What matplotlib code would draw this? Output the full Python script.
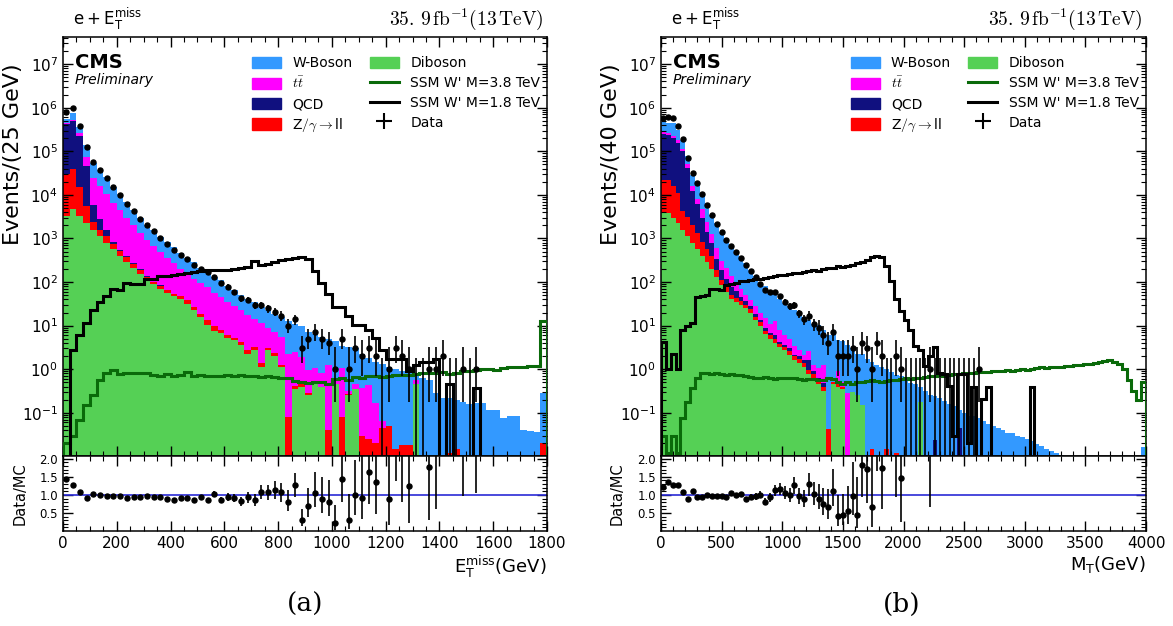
import numpy as np
import matplotlib
matplotlib.use("Agg")
import matplotlib.pyplot as plt
from matplotlib.lines import Line2D
from matplotlib.patches import Patch
from matplotlib.ticker import AutoMinorLocator, NullFormatter, FixedLocator, LogFormatterSciNotation

# ---- panel (a): MET, 25 GeV bins ----
met_edges = np.arange(0, 1801, 25)
met_diboson = [3200, 4800, 3200, 2240, 1585, 1120, 794, 575, 398, 288,
               209, 151, 105, 89, 71, 56, 48, 40, 31.6, 22.4,
               15.8, 10.5, 7.6, 6.9, 5.2, 4.7, 3.55, 2.24, 2.8, 1.12,
               2.8, 2.0, 1.12, 0, 0.35, 0.4, 0.25, 0.45, 0.4, 0,
               0.45, 0, 0.25, 0.35, 0, 0, 0, 0, 0, 0,
               0, 0, 0.45, 0, 0, 0, 0, 0, 0, 0,
               0, 0, 0, 0, 0, 0, 0, 0, 0, 0,
               0, 0]
met_zll = [27700, 34100, 11900, 3380, 814, 463, 328, 184, 127, 84,
           54, 40, 27, 11, 12, 10, 4.5, 7, 6.4, 3.9,
           2.8, 2.7, 2.4, 1.0, 0.8, 0.5, 0.65, 0.56, 0.36, 0.29,
           0.2, 0.3, 0.14, 0.08, 0.07, 0.05, 0.03, 0.02, 0, 0.04,
           0, 0.08, 0.02, 0, 0.03, 0.025, 0.02, 0.045, 0.05, 0.015,
           0.018, 0.018, 0.01, 0, 0, 0, 0, 0.012, 0.015, 0,
           0, 0, 0, 0, 0, 0, 0, 0, 0, 0,
           0, 0.02]
met_qcd = [386000, 450900, 214000, 40100, 3355, 1170, 463, 90, 25, 15,
           10, 6, 3, 1, 0.5, 0.3, 0.2] + [0] * 55
met_ttbar = [40200, 47200, 33900, 26700, 18240, 13100, 8890, 5760, 3915, 2633,
             1722, 1152, 798, 575, 396, 297, 222, 153, 120, 94,
             74, 63, 47.5, 36.8, 29.5, 23, 18.2, 15, 11, 9.8,
             5.9, 4.8, 4.3, 2.16, 2.1, 1.5, 0.7, 0.6, 0.4, 1.2,
             0.1, 1.0, 0.05, 0.1, 0.35, 0.4, 0.15, 0.02, 0, 0,
             0, 0, 0.1, 0, 0, 0, 0, 0, 0, 0,
             0, 0, 0, 0, 0, 0, 0, 0, 0, 0,
             0, 0]
met_wboson = [105200, 239200, 91800, 65600, 30960, 20460, 14650, 8880, 5760, 3900,
              2472, 1671, 1156, 873, 593, 488, 371, 257, 205, 162,
              121, 124, 71.5, 65, 47.7, 36.4, 28.9, 23.9, 20.6, 15.7,
              14.5, 11.5, 10.2, 10.4, 8.5, 7.8, 6.1, 5.5, 4.8, 3.8,
              4.0, 2.4, 2.9, 2.55, 1.8, 1.4, 1.3, 1.25, 1.07, 0.98,
              0.87, 0.78, 0.15, 0.63, 0.56, 0.28, 0.22, 0.21, 0.185, 0.18,
              0.16, 0.166, 0.166, 0.115, 0.115, 0.076, 0.085, 0.085, 0.04, 0.038,
              0.037, 0.26]
met_sig38 = [0.02, 0.03, 0.068, 0.15, 0.26, 0.56, 0.81, 0.95, 0.76, 0.8,
             0.82, 0.8, 0.83, 0.72, 0.7, 0.78, 0.7, 0.72, 0.84, 0.7,
             0.72, 0.7, 0.68, 0.7, 0.72, 0.71, 0.72, 0.7, 0.69, 0.66,
             0.68, 0.65, 0.63, 0.62, 0.55, 0.5, 0.48, 0.52, 0.5, 0.46,
             0.6, 0.62, 0.58, 0.65, 0.63, 0.7, 0.68, 0.66, 0.7, 0.72,
             0.74, 0.72, 0.78, 0.8, 0.82, 0.8, 0.85, 0.78, 0.8, 0.9,
             0.92, 0.95, 1.0, 1.02, 0.98, 1.05, 1.12, 1.1, 1.15, 1.2,
             1.18, 12.5]
met_sig18 = [0, 2.7, 6.0, 11.2, 23.4, 34.7, 47.9, 67.6, 66, 93,
             89, 89, 115, 120, 138, 141, 148, 151, 158, 166,
             178, 186, 190, 186, 186, 200, 209, 224, 302, 251,
             263, 282, 316, 331, 363, 380, 331, 178, 95, 54,
             27, 27, 16.6, 10.5, 10.5, 8.1, 5.2, 2.8, 1.74, 1.74,
             1.74, 0.89, 1.26, 1.5, 1.5, 1.74, 0, 0.45, 0, 0,
             0, 0.37, 0, 0, 0, 0, 0, 0, 0, 0,
             0, 0]
met_data = [813000, 1000000, 380000, 126000, 56200, 36300, 24500, 15100, 10000, 6300,
            4170, 2820, 2040, 1445, 1000, 759, 550, 417, 331, 245,
            200, 170, 132, 95, 79, 59, 42, 39, 30, 29,
            25, 21, 17, 10, 14, 3, 5, 7, 5, 4,
            1, 5, 1, 3, 2, 3, 2, 0, 1, 3,
            2, 1, 0, 0, 1, 1, 2, 0, 0, 1,
            0, 1, 0, 0, 0, 0, 0, 0, 0, 0,
            0, 0]

# ---- panel (b): MT, 40 GeV bins ----
mt_edges = np.arange(0, 4001, 40)
mt_diboson = [3890, 3890, 2950, 2240, 1585, 1122, 794, 562, 398, 282,
              200, 130, 85, 58, 41.7, 35.5, 30.2, 25.1, 20, 13.2,
              10, 6.3, 5.0, 4.0, 3.16, 2.7, 2.14, 1.66, 1.41, 1.12,
              0.79, 0.63, 0.45, 0.32, 0, 0.45, 0.4, 0.35, 0, 0.3,
              0.25, 0.15, 0, 0, 0, 0, 0, 0, 0, 0,
              0, 0, 0, 0.18] + [0] * 46
mt_zll = [17990, 17990, 12900, 8980, 2584, 2040, 1295, 756, 434, 280,
          198, 59, 26, 19.6, 8, 7, 6, 5, 4, 2.8,
          2.2, 1.4, 1.1, 0.9, 0.7, 0.55, 0.45, 0.35, 0.3, 0.25,
          0.18, 0.14, 0.1, 0.08, 0.043, 0.05, 0.05, 0.05, 0, 0,
          0.01, 0, 0, 0.015, 0, 0, 0.015, 0, 0.012] + [0] * 51
mt_qcd = [223600, 212500, 188400, 147300, 95800, 38500, 10500, 4990, 2188, 851,
          396, 155, 74, 42.5, 29, 18.3, 8.4, 6.4, 4.2, 2.8,
          1.5, 0.9, 0.7, 1.3, 0.4, 0.37, 0.49, 0.15, 0.31, 0.27,
          0.66, 0.14, 0.08, 0.08, 0, 0, 0.02, 0, 0, 0,
          0, 0, 0, 0, 0, 0, 0, 0.01, 0, 0,
          0, 0, 0, 0, 0, 0, 0.024, 0, 0, 0,
          0, 0.045] + [0] * 38
mt_ttbar = [29900, 30000, 24900, 23500, 14800, 8430, 3260, 1633, 1766, 986,
            465, 248, 116, 86, 58.5, 29.2, 24, 14.5, 9.8, 9.7,
            5.8, 6.5, 4.1, 6.9, 3.7, 2.53, 1.83, 1.16, 0.73, 0.5,
            0.92, 0.32, 0.41, 0.79, 0, 0, 0.42, 0.1, 0.28] + [0] * 61
mt_wboson = [203200, 192700, 217600, 120000, 63000, 27500, 12330, 11560, 5930, 3490,
             2208, 1688, 1129, 776, 487, 390, 272.6, 216.5, 152.5, 106.4,
             70.9, 66, 52, 39.2, 32.7, 26.8, 23.2, 19.5, 16.9, 13.6,
             10.6, 9.4, 9.1, 6.7, 6.1, 5.8, 3.8, 4.0, 3.4, 2.8,
             1.94, 2.04, 1.74, 1.46, 1.26, 1.15, 0.985, 0.83, 0.73, 0.68,
             0.56, 0.47, 0.45, 0.22, 0.32, 0.26, 0.216, 0.22, 0.19, 0.155,
             0.14, 0.072, 0.1, 0.083, 0.083, 0.076, 0.066, 0.056, 0.05, 0.045,
             0.04, 0.035, 0.034, 0.03, 0.028, 0.025, 0.022, 0.019, 0.017, 0.015,
             0.013, 0.012, 0.0105, 0.0091, 0.008, 0, 0, 0, 0, 0,
             0, 0, 0, 0, 0, 0, 0, 0, 0, 0.016]
mt_sig38 = [0.03, 0.012, 0.03, 0.012, 0.075, 0.18, 0.37, 0.62, 0.82, 0.8,
            0.78, 0.8, 0.76, 0.74, 0.76, 0.72, 0.74, 0.68, 0.66, 0.64,
            0.62, 0.65, 0.63, 0.6, 0.62, 0.64, 0.62, 0.63, 0.6, 0.58,
            0.6, 0.6, 0.56, 0.58, 0.62, 0.6, 0.5, 0.45, 0.5, 0.46,
            0.52, 0.5, 0.55, 0.58, 0.55, 0.52, 0.55, 0.58, 0.56, 0.6,
            0.62, 0.6, 0.62, 0.64, 0.66, 0.68, 0.7, 0.72, 0.7, 0.74,
            0.76, 0.78, 0.8, 0.82, 0.8, 0.84, 0.86, 0.84, 0.9, 0.92,
            0.9, 0.95, 0.93, 0.96, 1.0, 0.98, 1.02, 1.05, 1.1, 1.08,
            1.1, 1.12, 1.15, 1.18, 1.2, 1.22, 1.25, 1.3, 1.35, 1.4,
            1.5, 1.55, 1.6, 1.5, 1.3, 1.0, 0.56, 0.32, 0.2, 0.52]
mt_sig18 = [4.2, 1.0, 2.2, 1.0, 7.9, 10, 11.5, 46, 48, 50,
            68, 69, 66, 87, 91, 95, 105, 107, 112, 117,
            115, 126, 132, 138, 145, 145, 151, 158, 158, 174,
            178, 186, 182, 200, 209, 214, 229, 224, 234, 251,
            269, 282, 316, 380, 389, 372, 229, 105, 40, 21.4,
            13.5, 8.1, 3.4, 2.8, 1.17, 2.0, 3.2, 0.81, 0.76, 0.41,
            0.029, 0.76, 0.76, 0.02, 0.39, 0, 0.21, 0.39, 0, 0,
            0, 0, 0, 0, 0, 0, 0.39] + [0] * 23
mt_data = [589000, 617000, 575000, 389000, 190500, 69200, 31600, 18600, 10230, 5890,
           3390, 2190, 1380, 933, 661, 479, 347, 240, 182, 129,
           91, 66, 59, 59, 47, 35, 28, 29, 19, 14,
           17, 11, 9, 6, 4, 7, 2, 2, 2, 3,
           1, 4, 3, 1, 4, 2, 0, 0, 2, 1,
           0, 0, 0, 0, 0, 1, 0, 0, 0, 0,
           0, 0, 0, 0, 0, 1] + [0] * 34

C_W = "#3399ff"
C_TT = "#ff00ff"
C_QCD = "#10107f"
C_Z = "#ff0000"
C_DIB = "#55d055"
C_S38 = "#0a6a0a"

YMIN, YMAX = 0.0102, 4.2e7

# 68% Poisson (Garwood) intervals for small counts
GW_LO = [0, 0.173, 0.708, 1.367, 2.086, 2.840, 3.620, 4.419, 5.232, 6.057, 6.891]
GW_HI = [1.841, 3.300, 4.638, 5.918, 7.163, 8.382, 9.584, 10.77, 11.95, 13.11, 14.27]


def poisson_band(n):
    lo = n - np.sqrt(n)
    hi = n + np.sqrt(n)
    for i, v in enumerate(n):
        if v <= 10:
            lo[i] = GW_LO[int(v)]
            hi[i] = GW_HI[int(v)]
    return lo, hi


def draw_panel(ax, rax, edges, stack, sig38, sig18, data, xlabel, ylabel, major):
    width = np.diff(edges)
    centers = edges[:-1] + width / 2
    ax.set_yscale("log")
    bottom = np.full(len(width), 1e-6)
    for vals, color in stack:
        vals = np.asarray(vals, float)
        ax.bar(edges[:-1], vals, width=width, bottom=bottom, align="edge",
               color=color, linewidth=0, zorder=1)
        bottom = bottom + vals
    mc = bottom

    s38 = np.asarray(sig38, float)
    s18 = np.asarray(sig18, float)
    ax.stairs(np.where(s38 > 0, s38, 1e-6), edges, color=C_S38, lw=2.2, zorder=3)
    ax.stairs(np.where(s18 > 0, s18, 1e-6), edges, color="black", lw=2.2, zorder=3)

    n = np.asarray(data, float)
    lo, hi = poisson_band(n)
    pos = n > 0
    ax.errorbar(centers[pos], n[pos], yerr=[n[pos] - lo[pos], hi[pos] - n[pos]],
                fmt="o", color="black", ms=3.6, elinewidth=1.2, capsize=0, zorder=4)
    last = np.nonzero(pos)[0].max()
    empty = (~pos) & (np.arange(len(n)) < last)
    ax.vlines(centers[empty], 1e-6, GW_HI[0], color="black", lw=1.2, zorder=4)

    ax.set_ylim(YMIN, YMAX)
    ax.set_xlim(edges[0], edges[-1])
    # only ticks inside the visible range
    majors = 10.0 ** np.arange(-1, 8)
    minors = [m * 10.0 ** e for e in range(-2, 8) for m in range(2, 10)]
    minors = [v for v in minors if YMIN <= v <= YMAX]
    ax.yaxis.set_major_locator(FixedLocator(majors))
    ax.yaxis.set_major_formatter(LogFormatterSciNotation())
    ax.yaxis.set_minor_locator(FixedLocator(minors))
    ax.yaxis.set_minor_formatter(NullFormatter())
    ax.set_ylabel(ylabel, fontsize=16)
    ax.yaxis.set_label_coords(-0.083, 0.72)
    ax.tick_params(labelbottom=False)

    ok = pos & (mc > 1e-5)
    r = n[ok] / mc[ok]
    rax.errorbar(centers[ok], r, yerr=[(n[ok] - lo[ok]) / mc[ok], (hi[ok] - n[ok]) / mc[ok]],
                 fmt="o", color="black", ms=3.6, elinewidth=1.2, capsize=0, zorder=4)
    rax.axhline(1.0, color="#2a2ad6", lw=1.2, zorder=2)
    rax.set_ylim(0, 2.08)
    rax.yaxis.set_major_locator(FixedLocator([0.5, 1.0, 1.5, 2.0]))
    rax.yaxis.set_minor_locator(FixedLocator(np.arange(0.1, 2.05, 0.1)))
    rax.set_ylabel("Data/MC", fontsize=10.5)
    rax.yaxis.set_label_coords(-0.074, 0.5)
    rax.set_xlabel(xlabel, fontsize=13, loc="right", labelpad=2)
    rax.xaxis.set_major_locator(FixedLocator(np.arange(edges[0], edges[-1] + 1, major)))
    rax.xaxis.set_minor_locator(AutoMinorLocator())
    for a in (ax, rax):
        a.tick_params(which="both", direction="in", top=True, right=True)
        a.tick_params(which="major", length=7, width=1)
        a.tick_params(which="minor", length=3.5, width=0.8)
        for sp in a.spines.values():
            sp.set_linewidth(1.1)
    ax.tick_params(axis="y", labelsize=11)
    rax.tick_params(axis="x", labelsize=11)
    rax.tick_params(axis="y", labelsize=8.5)

    ax.text(0.025, 0.94, "CMS", transform=ax.transAxes, fontsize=14,
            fontweight="bold", va="center")
    ax.text(0.025, 0.897, "Preliminary", transform=ax.transAxes, fontsize=10,
            style="italic", va="center")
    ax.text(0.02, 1.012, r"$\mathrm{e+E_{T}^{miss}}$", transform=ax.transAxes,
            fontsize=12, ha="left", va="bottom")
    ax.text(0.993, 1.012, r"$35.\,9\,\mathrm{fb}^{-1}(13\,\mathrm{TeV})$", transform=ax.transAxes,
            fontsize=14, ha="right", va="bottom", math_fontfamily="cm")

    handles = [Patch(color=C_W), Patch(color=C_TT), Patch(color=C_QCD), Patch(color=C_Z),
               Patch(color=C_DIB), Line2D([], [], color=C_S38, lw=2.2),
               Line2D([], [], color="black", lw=2.2),
               Line2D([], [], color="black", marker="+", ms=11, mew=1.5, ls="none")]
    labels = ["W-Boson", r"$t\bar{t}$", "QCD", r"Z$/\gamma\rightarrow$ll",
              "Diboson", "SSM W' M=3.8 TeV", "SSM W' M=1.8 TeV", "Data"]
    leg = ax.legend(handles, labels, ncol=2, loc="upper left", bbox_to_anchor=(0.365, 0.984),
                    frameon=False, fontsize=10, handlelength=2.1, handleheight=0.9,
                    labelspacing=0.42, columnspacing=1.25, handletextpad=0.8)
    leg.get_texts()[1].set_math_fontfamily("cm")
    leg.get_texts()[3].set_math_fontfamily("cm")


fig = plt.figure(figsize=(11.73, 6.26), dpi=100)
ax_a = fig.add_axes([0.0537, 0.2716, 0.4126, 0.6693])
rax_a = fig.add_axes([0.0537, 0.1518, 0.4126, 0.1198], sharex=ax_a)
ax_b = fig.add_axes([0.5635, 0.2716, 0.4135, 0.6693])
rax_b = fig.add_axes([0.5635, 0.1518, 0.4135, 0.1198], sharex=ax_b)

draw_panel(ax_a, rax_a, met_edges,
           [(met_diboson, C_DIB), (met_zll, C_Z), (met_qcd, C_QCD),
            (met_ttbar, C_TT), (met_wboson, C_W)],
           met_sig38, met_sig18, met_data,
           r"$\mathrm{E_{T}^{miss}}$(GeV)", "Events/(25 GeV)", 200)
draw_panel(ax_b, rax_b, mt_edges,
           [(mt_diboson, C_DIB), (mt_zll, C_Z), (mt_qcd, C_QCD),
            (mt_ttbar, C_TT), (mt_wboson, C_W)],
           mt_sig38, mt_sig18, mt_data,
           r"$\mathrm{M_{T}}$(GeV)", "Events/(40 GeV)", 500)

fig.text(0.26, 0.034, "(a)", fontsize=19, family="DejaVu Serif", ha="center", va="center")
fig.text(0.769, 0.034, "(b)", fontsize=19, family="DejaVu Serif", ha="center", va="center")

fig.savefig("out.png", dpi=100)
